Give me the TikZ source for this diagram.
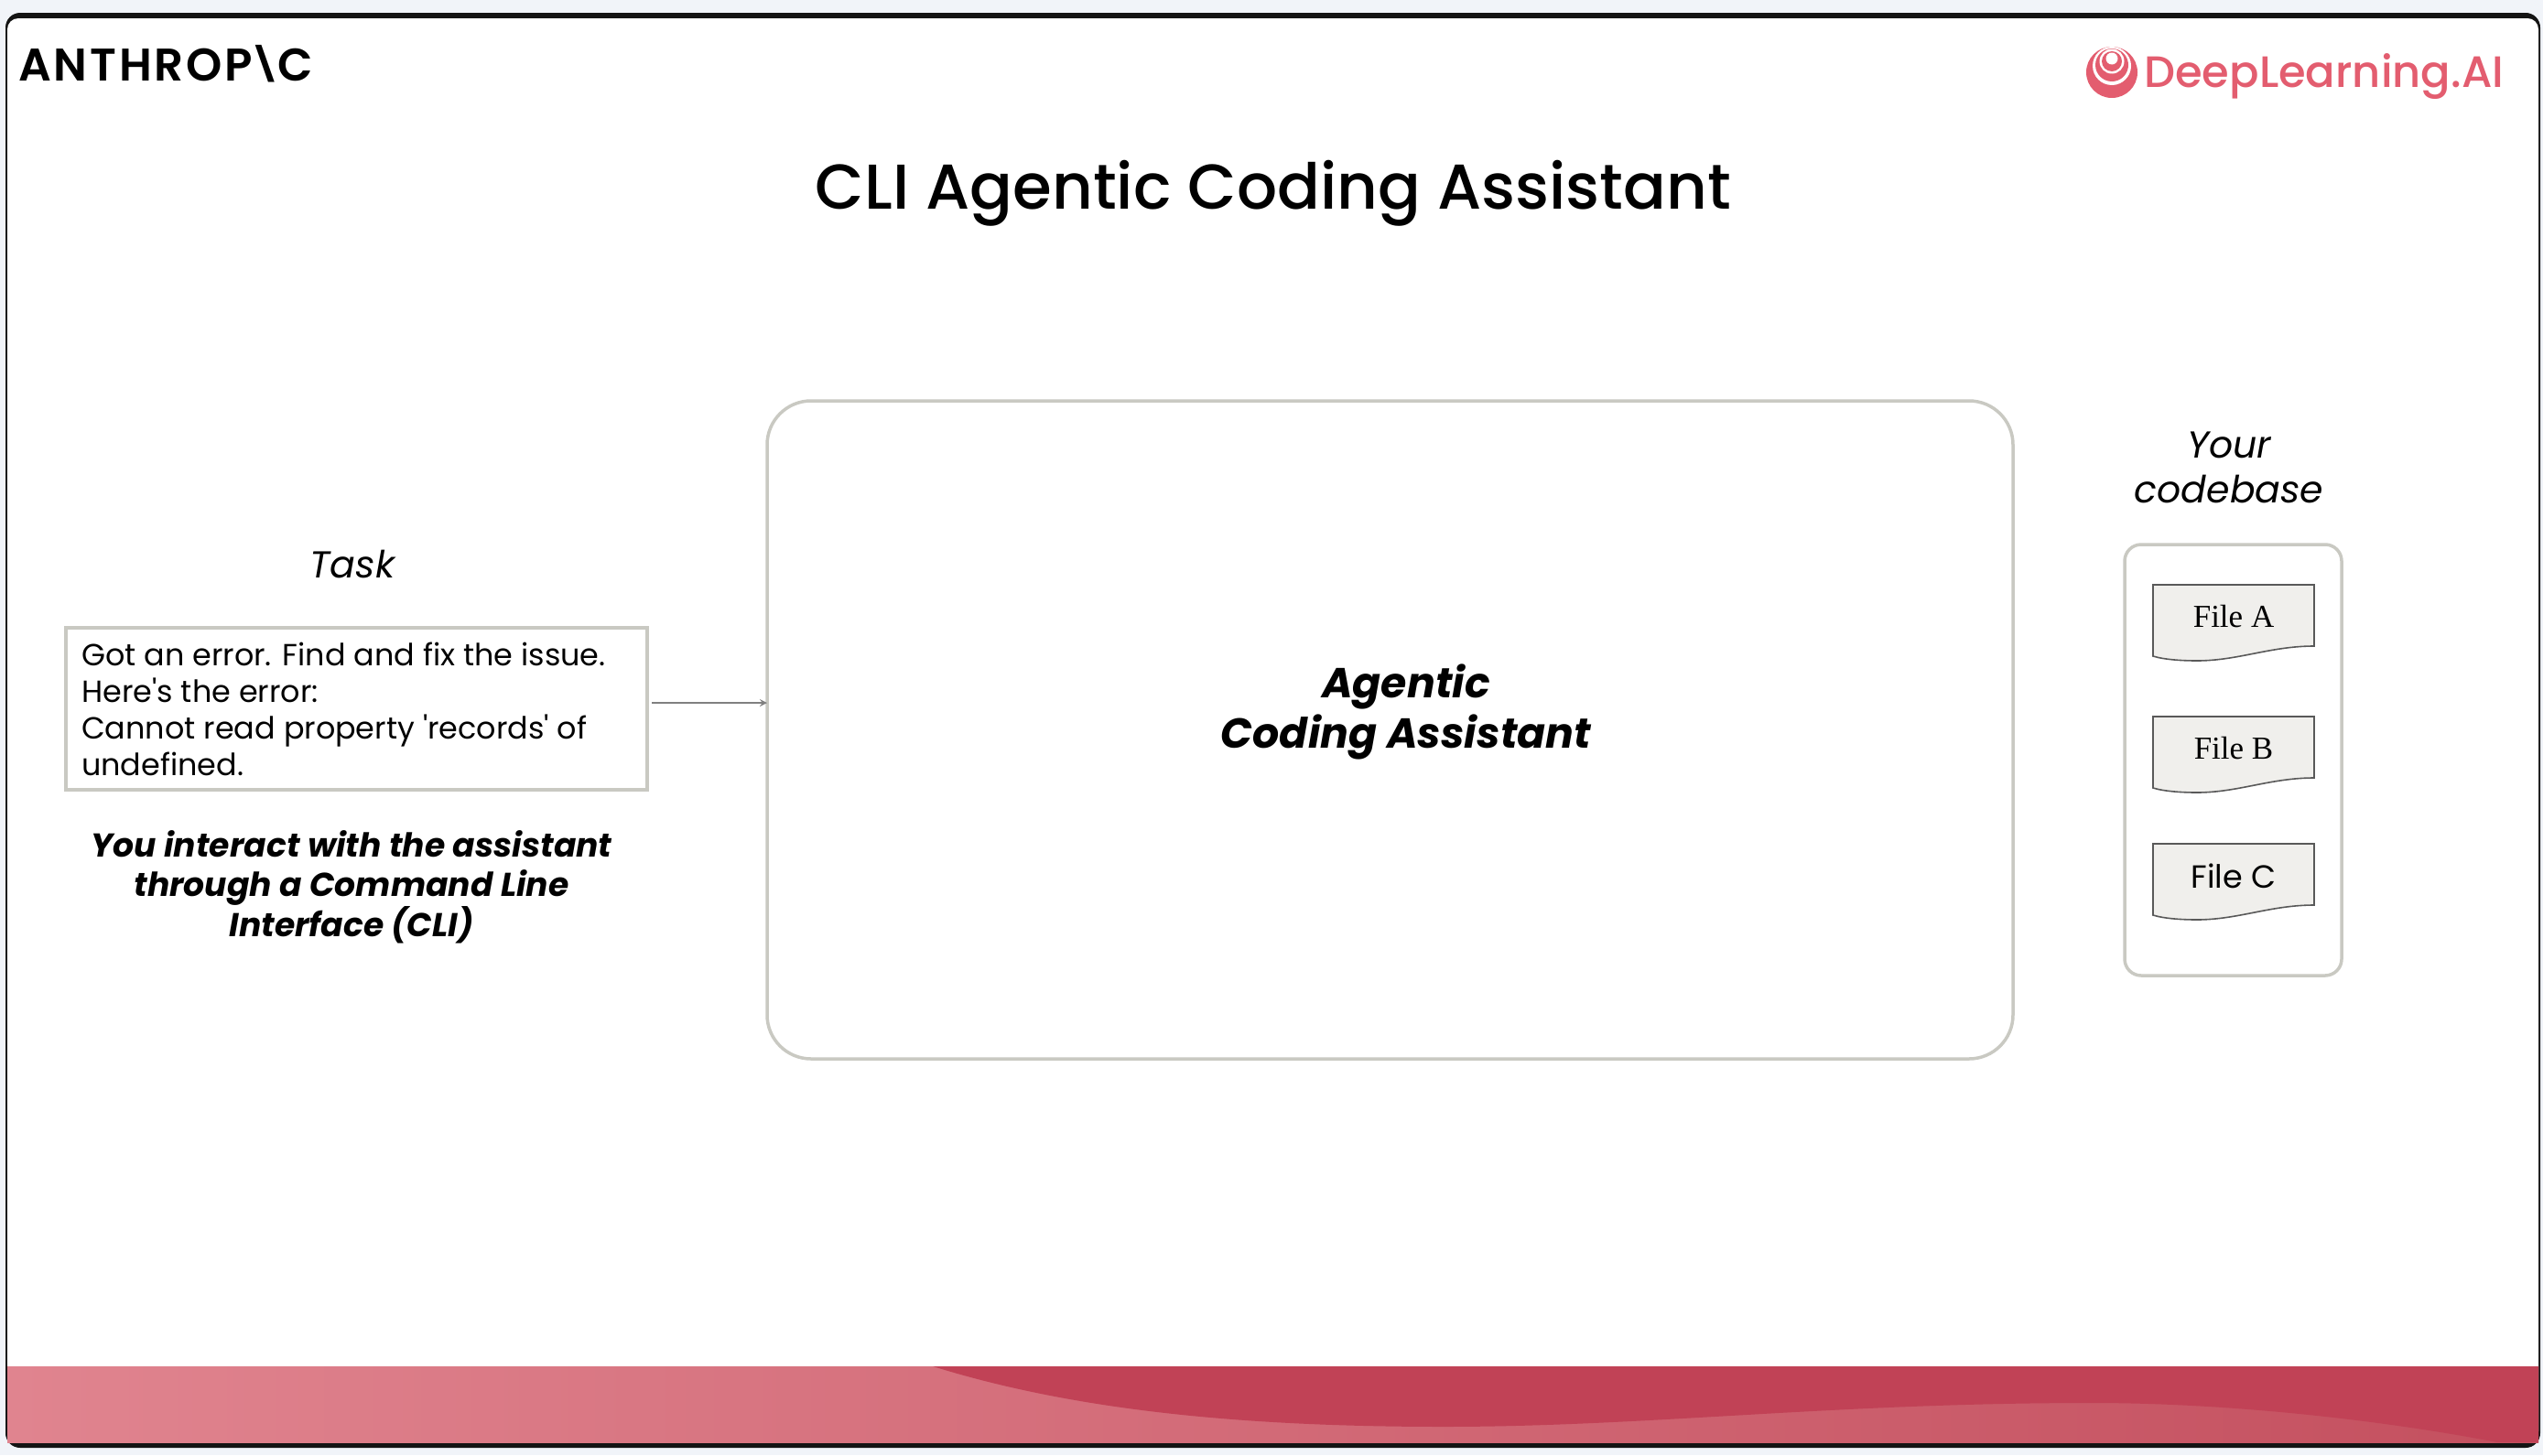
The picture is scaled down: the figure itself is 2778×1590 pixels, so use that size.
\documentclass[tikz,border=0pt]{standalone}
\usepackage{fontspec}
\setmainfont{Poppins}
\newfontfamily\mediumfont{Poppins Medium}
\newfontfamily\logofont[LetterSpace=5.6]{Poppins SemiBold}
\newfontfamily\filefont{Liberation Serif}
\usetikzlibrary{arrows,calc}
\definecolor{pagebg}{HTML}{F1F4F9}
\definecolor{boxline}{HTML}{C9C9C2}
\definecolor{logored}{HTML}{E35D6F}
\definecolor{bandleft}{HTML}{E0848F}
\definecolor{bandmid}{HTML}{D46A79}
\definecolor{bandright}{HTML}{C4505F}
\definecolor{banddark}{HTML}{C14256}
\definecolor{filefill}{HTML}{F0EFEC}
\tikzstyle{bigbox}=[draw=boxline,line width=3.5pt,rounded corners=48pt,inner sep=0pt,outer sep=0pt]
\tikzstyle{taskbox}=[draw=boxline,line width=3.5pt,inner sep=0pt,outer sep=0pt,minimum width=635pt,minimum height=177pt]
\tikzstyle{filebody}=[draw=black!65,line width=1.6pt,fill=filefill]
\tikzstyle{flow} = [draw,line width=2.5pt,black!50,-stealth,shorten <=5pt]
\tikzstyle{caption} = [align=center,font=\fontsize{41}{49}\selectfont\itshape,inner sep=0pt]
\tikzstyle{strongcaption} = [align=center,font=\fontsize{45.8}{55}\selectfont\bfseries\itshape,inner sep=0pt]

\begin{document}
\begin{tikzpicture}[x=1pt,y=-1pt]
\useasboundingbox (0,0) rectangle (2778,1590);
\fill[pagebg] (0,0) rectangle (2778,1590);

% frame and coloured band
\fill[black!92,rounded corners=16pt] (6,14) rectangle (2775,1582);
\fill[white,rounded corners=12pt] (8,20) rectangle (2773,1576);
\shade[left color=bandleft,middle color=bandmid,right color=bandright] (8,1493) rectangle (2773,1576);
\fill[banddark] (1019,1493) .. controls (1170,1540) and (1350,1559) .. (1577,1559)
   .. controls (1800,1559) and (2000,1533) .. (2285,1533)
   .. controls (2450,1533) and (2620,1555) .. (2728,1576) -- (2773,1576) -- (2773,1493) -- cycle;

% logos
\node[anchor=base west,inner sep=0pt,font=\logofont\fontsize{50}{50}\selectfont] (anthropic) at (20,88) {ANTHROP\kern-5pt\raisebox{5pt}{\scalebox{1}[0.72]{\textbackslash}}\kern-5pt C};
\fill[logored] (2307,79) circle (28);
\fill[white] (2307,72) circle (21);
\fill[logored] (2307,71) circle (18);
\fill[white] (2307,67) circle (13.5);
\fill[logored] (2307,67) circle (11);
\fill[white] (2307,64) circle (6.5);
\node[anchor=base west,inner sep=0pt,text=logored,font=\mediumfont\fontsize{48}{48}\selectfont] (deeplearning) at (2342,95) {DeepLearning.AI};

% title
\node[inner sep=0pt,font=\mediumfont\fontsize{69.2}{69.2}\selectfont] (title) at (1391,211) {CLI Agentic Coding Assistant};

% left column
\node[caption] (tasklabel) at (385,617) {Task};
\node[taskbox] (task) at (389.5,774.5) {};
\node[anchor=west,align=left,inner sep=0pt,font=\fontsize{33.4}{40}\selectfont] (tasktext) at (89,775) {Got an error. Find and fix the issue.\\Here\textquotesingle s the error:\\Cannot read property \textquotesingle records\textquotesingle{} of\\undefined.};
\node[strongcaption,font=\fontsize{36.1}{43.4}\selectfont\bfseries\itshape] (cli) at (384,969) {You interact with the assistant\\through a Command Line\\Interface (CLI)};

% assistant
\node[bigbox,minimum width=1361pt,minimum height=719pt] (assistant) at (1518.5,797.5) {};
\node[strongcaption] (assistantlabel) at (1536,778) {Agentic\\Coding Assistant};
\coordinate (entry) at (assistant.west |- 0,768);
\draw[flow] (task.east |- entry) -- (entry);

% codebase
\node[caption] (codelabel) at (2435,511) {Your\\codebase};
\node[bigbox,rounded corners=18pt,minimum width=237pt,minimum height=471pt] (codebase) at (2439.5,830.5) {};
\foreach \ytop/ \name/ \fnt/ \txt in {639/filea/\filefont/{File A},783/fileb/\filefont/{File B},922/filec/\rmfamily/{File C}}{
    \draw[filebody] (2352,\ytop) -- (2528,\ytop) -- (2528,\ytop+67)
       .. controls (2480,\ytop+67) and (2445,\ytop+83) .. (2400,\ytop+83)
       .. controls (2385,\ytop+83) and (2365,\ytop+82) .. (2352,\ytop+78) -- cycle;
    \node[inner sep=0pt,font=\fnt\fontsize{35}{35}\selectfont] (\name) at (2440,\ytop+35) {\txt};
}
\end{tikzpicture}
\end{document}
